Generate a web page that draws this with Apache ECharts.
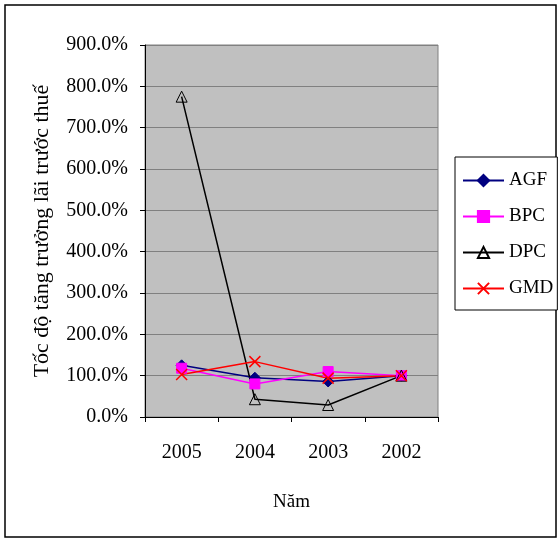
<!DOCTYPE html>
<html>
<head>
<meta charset="utf-8">
<script src="https://cdn.jsdelivr.net/npm/echarts@6/dist/echarts.min.js"></script>
<style>
  html, body { margin: 0; padding: 0; background: #fff; }
  #main { width: 559px; height: 540px; }
</style>
</head>
<body>
<div id="main"></div>
<script>
// năm (trục hoành)
const years = ['2005', '2004', '2003', '2002'];

// tốc độ tăng trưởng lãi trước thuế (%)
const agf = [125, 95, 86, 100];
const bpc = [118, 80, 110, 100];
const dpc = [775, 43, 29, 100];
const gmd = [103, 134, 94, 100];

const FONT = '"Liberation Serif", "DejaVu Serif", serif';
const X_MARK = 'path://M0,0L10,10M10,0L0,10';

function makeSeries(name, data, color, symbol, fill, size) {
    return {
        name: name,
        type: 'line',
        data: data,
        symbol: symbol,
        symbolSize: size,
        showSymbol: true,
        lineStyle: { color: color, width: 1.5 },
        itemStyle: { color: fill, borderColor: color, borderWidth: symbol === X_MARK ? 1.5 : 1 },
        emphasis: { disabled: true },
        animation: false
    };
}

var myChart = echarts.init(document.getElementById('main'));

var option = {
    backgroundColor: '#fff',
    textStyle: { fontFamily: FONT },
    graphic: [{
        type: 'rect',
        shape: { x: 5, y: 5, width: 551, height: 532 },
        style: { fill: 'none', stroke: '#000', lineWidth: 1.5 },
        silent: true
    }],
    grid: {
        left: 145, top: 45, right: 121, bottom: 123,
        show: true,
        backgroundColor: '#c0c0c0',
        borderColor: '#808080',
        borderWidth: 1
    },
    legend: {
        orient: 'vertical',
        left: 455, top: 157,
        padding: [14, 4, 12, 7],
        itemWidth: 41, itemHeight: 14, itemGap: 17,
        borderColor: '#000', borderWidth: 1,
        backgroundColor: '#fff',
        textStyle: { fontFamily: FONT, fontSize: 19, color: '#000' },
        data: ['AGF', 'BPC', 'DPC', 'GMD']
    },
    xAxis: {
        type: 'category',
        data: years,
        boundaryGap: true,
        name: 'Năm',
        nameLocation: 'middle',
        nameGap: 76,
        nameTextStyle: { fontFamily: FONT, fontSize: 19, color: '#000' },
        axisLine: { lineStyle: { color: '#000', width: 1 } },
        axisTick: { show: true, alignWithLabel: false, length: 5, lineStyle: { color: '#000' } },
        axisLabel: { fontFamily: FONT, fontSize: 20, color: '#000', margin: 26 },
        splitLine: { show: false }
    },
    yAxis: {
        type: 'value',
        min: 0, max: 900, interval: 100,
        name: 'Tốc độ tăng trưởng lãi trước thuế',
        nameLocation: 'middle',
        nameGap: 92,
        nameTextStyle: { fontFamily: FONT, fontSize: 22, color: '#000' },
        axisLine: { show: true, lineStyle: { color: '#000', width: 1 } },
        axisTick: { show: true, length: 5, lineStyle: { color: '#000' } },
        axisLabel: {
            fontFamily: FONT, fontSize: 20, color: '#000', margin: 17,
            formatter: function (v) { return v.toFixed(1) + '%'; }
        },
        splitLine: { show: true, lineStyle: { color: '#808080', width: 1 } }
    },
    series: [
        makeSeries('AGF', agf, '#000080', 'diamond', '#000080', 11),
        makeSeries('BPC', bpc, '#ff00ff', 'rect', '#ff00ff', 10),
        makeSeries('DPC', dpc, '#000000', 'triangle', 'rgba(0,0,0,0)', 11),
        makeSeries('GMD', gmd, '#ff0000', X_MARK, 'rgba(0,0,0,0)', 11)
    ]
};

myChart.setOption(option);
</script>
</body>
</html>
